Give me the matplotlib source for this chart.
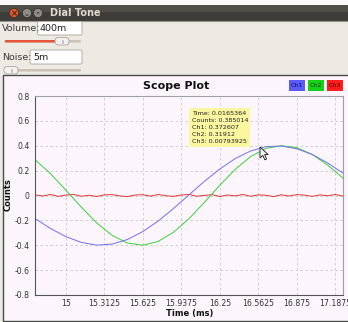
#!/usr/bin/env python3
"""Dial Tone scope window: three channels over a short time window."""

import matplotlib
matplotlib.use("Agg")
import matplotlib.pyplot as plt
from matplotlib.patches import Rectangle, FancyBboxPatch, Circle, Polygon

W, H = 348, 322

# time axis (ms) and channel samples
t_ms = [14.75, 14.875, 15.0, 15.125, 15.25, 15.375, 15.5, 15.625, 15.75,
        15.875, 16.0, 16.125, 16.25, 16.375, 16.5, 16.625, 16.75, 16.875,
        17.0, 17.125, 17.25]
ch1 = [-0.185, -0.265, -0.33, -0.377, -0.399, -0.391, -0.354, -0.29, -0.205,
       -0.104, 0.005, 0.114, 0.213, 0.297, 0.358, 0.393, 0.398, 0.376,
       0.33, 0.262, 0.18]
ch2 = [0.288, 0.176, 0.044, -0.093, -0.22, -0.32, -0.382, -0.4, -0.369,
       -0.295, -0.186, -0.055, 0.082, 0.21, 0.313, 0.379, 0.4, 0.385,
       0.33, 0.245, 0.14]

t_noise = [14.75 + 0.0625 * i for i in range(41)]
ch3 = [0.006, -0.004, 0.008, -0.007, 0.003, 0.009, -0.006, 0.002, -0.008,
       0.005, 0.007, -0.003, -0.009, 0.004, 0.006, -0.005, 0.008, -0.002,
       -0.007, 0.003, 0.009, -0.006, 0.001, 0.007, -0.008, 0.004, -0.003,
       0.008, -0.006, 0.005, 0.002, -0.009, 0.006, -0.004, 0.007, 0.003,
       -0.007, 0.005, -0.002, 0.008, -0.005]

x_ticks = [15, 15.3125, 15.625, 15.9375, 16.25, 16.5625, 16.875, 17.1875]
x_labels = ["15", "15.3125", "15.625", "15.9375", "16.25", "16.5625",
            "16.875", "17.1875"]
y_ticks = [0.8, 0.6, 0.4, 0.2, 0, -0.2, -0.4, -0.6, -0.8]
y_labels = ["0.8", "0.6", "0.4", "0.2", "0", "-0.2", "-0.4", "-0.6", "-0.8"]

legend_names = ["Ch1", "Ch2", "Ch3"]
tooltip_lines = ["Time: 0.0165364", "Counts: 0.385014", "Ch1: 0.372607",
                 "Ch2: 0.31912", "Ch3: 0.00793925"]

BLUE, GREEN, RED = "#7070f0", "#3ccc3c", "#e83232"
PLOT_BG = "#fcf6fc"
WIN_BG = "#edeae4"


def box(ax, x0, y0, x1, y1, fc, ec, lw=0.6, r=1.5, z=2):
    ax.add_patch(FancyBboxPatch((x0, y0), x1 - x0, y1 - y0,
                                boxstyle=f"round,pad=0,rounding_size={r}",
                                fc=fc, ec=ec, lw=lw, zorder=z))


def draw_chrome(ui):
    ui.add_patch(Rectangle((0, 0), W, H, fc=WIN_BG, ec="none", zorder=0))
    ui.add_patch(Rectangle((0, 0), W, 5, fc="#fafafa", ec="none", zorder=1))
    # title bar with a rough two-tone gradient
    ui.add_patch(Rectangle((0, 5), W, 8, fc="#504e48", ec="none", zorder=1))
    ui.add_patch(Rectangle((0, 12), W, 8.5, fc="#3e3d39", ec="none", zorder=1))
    ui.plot([0, W], [20.5, 20.5], color="#9a968e", lw=0.8, zorder=2)
    for cx, fc in [(14, "#e9582a"), (27, "#8f8c85"), (38, "#8f8c85")]:
        ui.add_patch(Circle((cx, 13), 4.6, fc=fc, ec="#2e2d2a", lw=0.5, zorder=3))
    ui.text(14, 13.2, "×", color="#3a2a20", fontsize=6, ha="center",
            va="center", fontweight="bold", zorder=4)
    ui.text(27, 13.5, "⌄", color="#2e2d2a", fontsize=5, ha="center",
            va="center", fontweight="bold", zorder=4)
    ui.text(38, 13.8, "⌃", color="#2e2d2a", fontsize=5, ha="center",
            va="center", fontweight="bold", zorder=4)
    ui.text(50, 13, "Dial Tone", color="#dfdbd2", fontsize=7,
            fontweight="bold", va="center", zorder=4)

    # Volume controls
    ui.text(2, 28.5, "Volume:", color="#3c3c3c", fontsize=6.8, va="center")
    box(ui, 37.5, 21.5, 82, 35, "white", "#a8a49c")
    ui.text(40, 28.5, "400m", color="#222222", fontsize=6.8, va="center", zorder=3)
    box(ui, 5, 40, 81, 42.5, "#cbc3b3", "none", r=1)
    box(ui, 5, 40, 58, 42.5, "#e5553c", "none", r=1, z=3)
    box(ui, 55, 37.5, 69, 45, "#f4f2ee", "#a8a49c", r=3.5, z=4)
    ui.plot([61.5, 61.5], [39.5, 43], color="#999", lw=0.4, zorder=5)
    ui.plot([62.5, 62.5], [39.5, 43], color="#999", lw=0.4, zorder=5)

    # Noise controls
    ui.text(2, 57, "Noise:", color="#3c3c3c", fontsize=6.8, va="center")
    box(ui, 30, 50, 82, 64, "white", "#a8a49c")
    ui.text(33, 57, "5m", color="#222222", fontsize=6.8, va="center", zorder=3)
    box(ui, 5, 69, 81, 71.5, "#cbc3b3", "none", r=1)
    box(ui, 5, 69, 8, 71.5, "#e5553c", "none", r=1, z=3)
    box(ui, 4, 66.5, 18, 74, "#f4f2ee", "#a8a49c", r=3.5, z=4)
    ui.plot([10.5, 10.5], [68.5, 72], color="#999", lw=0.4, zorder=5)
    ui.plot([11.5, 11.5], [68.5, 72], color="#999", lw=0.4, zorder=5)

    # plot panel
    ui.add_patch(Rectangle((3, 74.5), 360, 246, fc=PLOT_BG, ec="#4a4a4a",
                           lw=1.0, zorder=2))
    ui.text(176, 85.5, "Scope Plot", fontsize=8, fontweight="bold",
            ha="center", va="center", color="#111111", zorder=3)

    # legend swatches
    for x0, fc, tc, name in [(289, "#5a5af8", "#10106a", legend_names[0]),
                             (308, "#18d018", "#064006", legend_names[1]),
                             (327, "#ff1c1c", "#5a0000", legend_names[2])]:
        ui.add_patch(Rectangle((x0, 80), 16, 11, fc=fc, ec="none", zorder=3))
        ui.text(x0 + 8, 85.7, name, fontsize=4.6, color=tc, ha="center",
                va="center", zorder=4)

    ui.text(8, 195, "Counts", rotation=90, fontsize=6, fontweight="bold",
            ha="center", va="center", color="#111111", zorder=3)
    ui.text(190, 313.5, "Time (ms)", fontsize=6, fontweight="bold",
            ha="center", va="center", color="#111111", zorder=3)


def draw_overlay(ov):
    ov.add_patch(Rectangle((189, 108), 61, 39, fc="#fbf7a0", ec="none", zorder=5))
    for i, line in enumerate(tooltip_lines):
        ov.text(192, 113 + 7 * i, line, fontsize=4.6, color="#222222",
                va="center", zorder=6)
    tip_x, tip_y = 260, 147
    arrow = [(0, 0), (0, 11), (2.8, 8.4), (4.8, 12.8), (6.6, 12), (4.6, 7.6),
             (8.2, 7.6)]
    ov.add_patch(Polygon([(tip_x + dx, tip_y + dy) for dx, dy in arrow],
                         closed=True, fc="#f2f2f2", ec="#111111", lw=0.6,
                         zorder=7))


def main():
    fig = plt.figure(figsize=(W / 100, H / 100), dpi=100)
    ui = fig.add_axes([0, 0, 1, 1], zorder=0)
    ui.set_xlim(0, W)
    ui.set_ylim(H, 0)
    ui.axis("off")
    draw_chrome(ui)

    ax = fig.add_axes([35 / W, (H - 295) / H, (343 - 35) / W, (295 - 96) / H],
                      zorder=1)
    ax.set_facecolor(PLOT_BG)
    ax.plot(t_noise, ch3, color=RED, lw=0.7)
    ax.plot(t_ms, ch2, color=GREEN, lw=0.7)
    ax.plot(t_ms, ch1, color=BLUE, lw=0.7)
    ax.set_xlim(14.75, 17.25)
    ax.set_ylim(-0.8, 0.8)
    ax.set_xticks(x_ticks, x_labels)
    ax.set_yticks(y_ticks, y_labels)
    ax.tick_params(axis="x", length=0, labelsize=5.6, colors="#333333", pad=3)
    ax.tick_params(axis="y", length=0, labelsize=5.6, colors="#333333", pad=4)
    ax.grid(True, color="#c8c8c8", ls=(0, (3, 3)), lw=0.6)
    for side in ["top", "right"]:
        ax.spines[side].set_color("#a0a0a0")
        ax.spines[side].set_linewidth(0.8)
    for side in ["left", "bottom"]:
        ax.spines[side].set_color("#555555")
        ax.spines[side].set_linewidth(0.8)

    ov = fig.add_axes([0, 0, 1, 1], zorder=2)
    ov.set_xlim(0, W)
    ov.set_ylim(H, 0)
    ov.axis("off")
    draw_overlay(ov)

    fig.savefig("out.png", dpi=100)
    plt.close(fig)


if __name__ == "__main__":
    main()
